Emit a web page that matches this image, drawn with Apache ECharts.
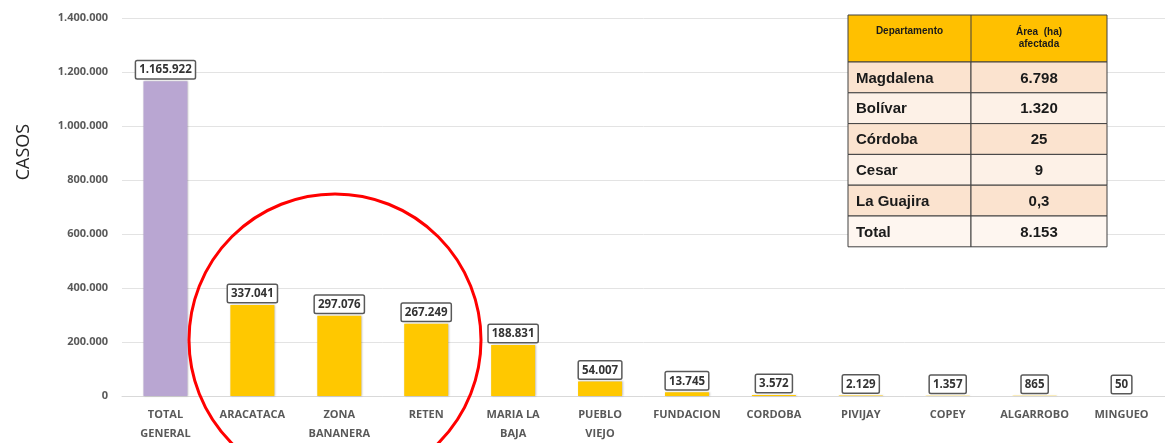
<!DOCTYPE html>
<html><head><meta charset="utf-8">
<script src="https://cdn.jsdelivr.net/npm/echarts@6/dist/echarts.min.js"></script>
<style>html,body{margin:0;padding:0;background:#fff}#c{width:1165px;height:443px}</style>
</head><body><div id="c"></div>
<script>
const categories = ['TOTAL\nGENERAL','ARACATACA','ZONA\nBANANERA','RETEN','MARIA LA\nBAJA','PUEBLO\nVIEJO','FUNDACION','CORDOBA','PIVIJAY','COPEY','ALGARROBO','MINGUEO'];
const casos = [1165922,337041,297076,267249,188831,54007,13745,3572,2129,1357,865,50];
const yMax = 1400000;
const yStep = 200000;
const yTitle = 'CASOS';
const tableHeader = ['Departamento','Área  (ha)\nafectada'];
const departamentos = ['Magdalena','Bolívar','Córdoba','Cesar','La Guajira','Total'];
const areas = ['6.798','1.320','25','9','0,3','8.153'];

const fmt = n => String(n).replace(/\B(?=(\d{3})+(?!\d))/g, '.');

// table layout (annotation, not data marks)
const tX = 848, tY = 15, c1 = 123, c2 = 136, hH = 47, rH = 30.8;
const rowFills = ['#FBE3CF','#FDF1E7','#FBE3CF','#FDF1E7','#FBE3CF','#FEF6F0'];
const g = [];
g.push({type:'rect', shape:{x:tX,y:tY,width:c1+c2,height:hH}, style:{fill:'#FFC000',stroke:'#404040',lineWidth:1}, z:10});
g.push({type:'line', shape:{x1:tX+c1,y1:tY,x2:tX+c1,y2:tY+hH}, style:{stroke:'#404040',lineWidth:1}, z:11});
g.push({type:'text', x:tX+c1/2, y:tY+16, style:{text:tableHeader[0],fill:'#1a1a1a',font:'bold 10px "Liberation Sans", Arial',align:'center',verticalAlign:'middle'}, z:12});
g.push({type:'text', x:tX+c1+c2/2, y:tY+23, style:{text:tableHeader[1],fill:'#1a1a1a',font:'bold 10px "Liberation Sans", Arial',align:'center',verticalAlign:'middle',lineHeight:12}, z:12});
departamentos.forEach((d,i)=>{
  const y = tY + hH + i*rH;
  g.push({type:'rect', shape:{x:tX,y:y,width:c1,height:rH}, style:{fill:rowFills[i],stroke:'#404040',lineWidth:1}, z:10});
  g.push({type:'rect', shape:{x:tX+c1,y:y,width:c2,height:rH}, style:{fill:rowFills[i],stroke:'#404040',lineWidth:1}, z:10});
  g.push({type:'text', x:tX+8, y:y+rH/2+1, style:{text:d,fill:'#1a1a1a',font:'bold 15px "Liberation Sans", Arial',align:'left',verticalAlign:'middle'}, z:12});
  g.push({type:'text', x:tX+c1+c2/2, y:y+rH/2+1, style:{text:areas[i],fill:'#1a1a1a',font:'bold 15px "Liberation Sans", Arial',align:'center',verticalAlign:'middle'}, z:12});
});
g.push({type:'circle', shape:{cx:335,cy:340,r:146}, style:{fill:'none',stroke:'#FF0000',lineWidth:3}, z:20});
g.push({type:'text', x:24, y:152, rotation:Math.PI/2, style:{text:yTitle,fill:'#262626',font:'18px "Open Sans", sans-serif',align:'center',verticalAlign:'middle'}, z:12});

const chart = echarts.init(document.getElementById('c'), null, {renderer:'canvas'});
chart.setOption({
  animation:false,
  backgroundColor:'#fff',
  grid:{left:122, right:-7, top:18, bottom:46, containLabel:false},
  xAxis:{
    type:'category', data:categories,
    axisLine:{show:true, lineStyle:{color:'#d9d9d9', width:1}},
    axisTick:{show:false},
    axisLabel:{interval:0, color:'#595959', fontFamily:'"Open Sans", sans-serif', fontWeight:'bold', fontSize:11, lineHeight:19, margin:9}
  },
  yAxis:{
    type:'value', min:0, max:yMax, interval:yStep,
    axisLine:{show:false}, axisTick:{show:false},
    splitLine:{lineStyle:{color:'#e3e3e3', width:1}},
    axisLabel:{color:'#595959', fontFamily:'"Open Sans", sans-serif', fontWeight:'bold', fontSize:11, margin:14, formatter:v=>fmt(v)}
  },
  series:[{
    type:'bar', data:casos.map((v,i)=>({value:v, itemStyle:{color: i===0 ? '#B9A6D2' : '#FFC800'}})),
    barWidth:44,
    itemStyle:{shadowColor:'rgba(0,0,0,0.25)', shadowBlur:2, shadowOffsetX:1, shadowOffsetY:0},
    label:{show:true, position:'top', distance:3, formatter:p=>fmt(p.value),
      color:'#333', fontFamily:'"Open Sans", sans-serif', fontWeight:'bold', fontSize:11.5,
      backgroundColor:'#fff', borderColor:'#595959', borderWidth:1.5, borderRadius:1, padding:[3,3,2,3]}
  }],
  graphic:g
});
</script></body></html>
